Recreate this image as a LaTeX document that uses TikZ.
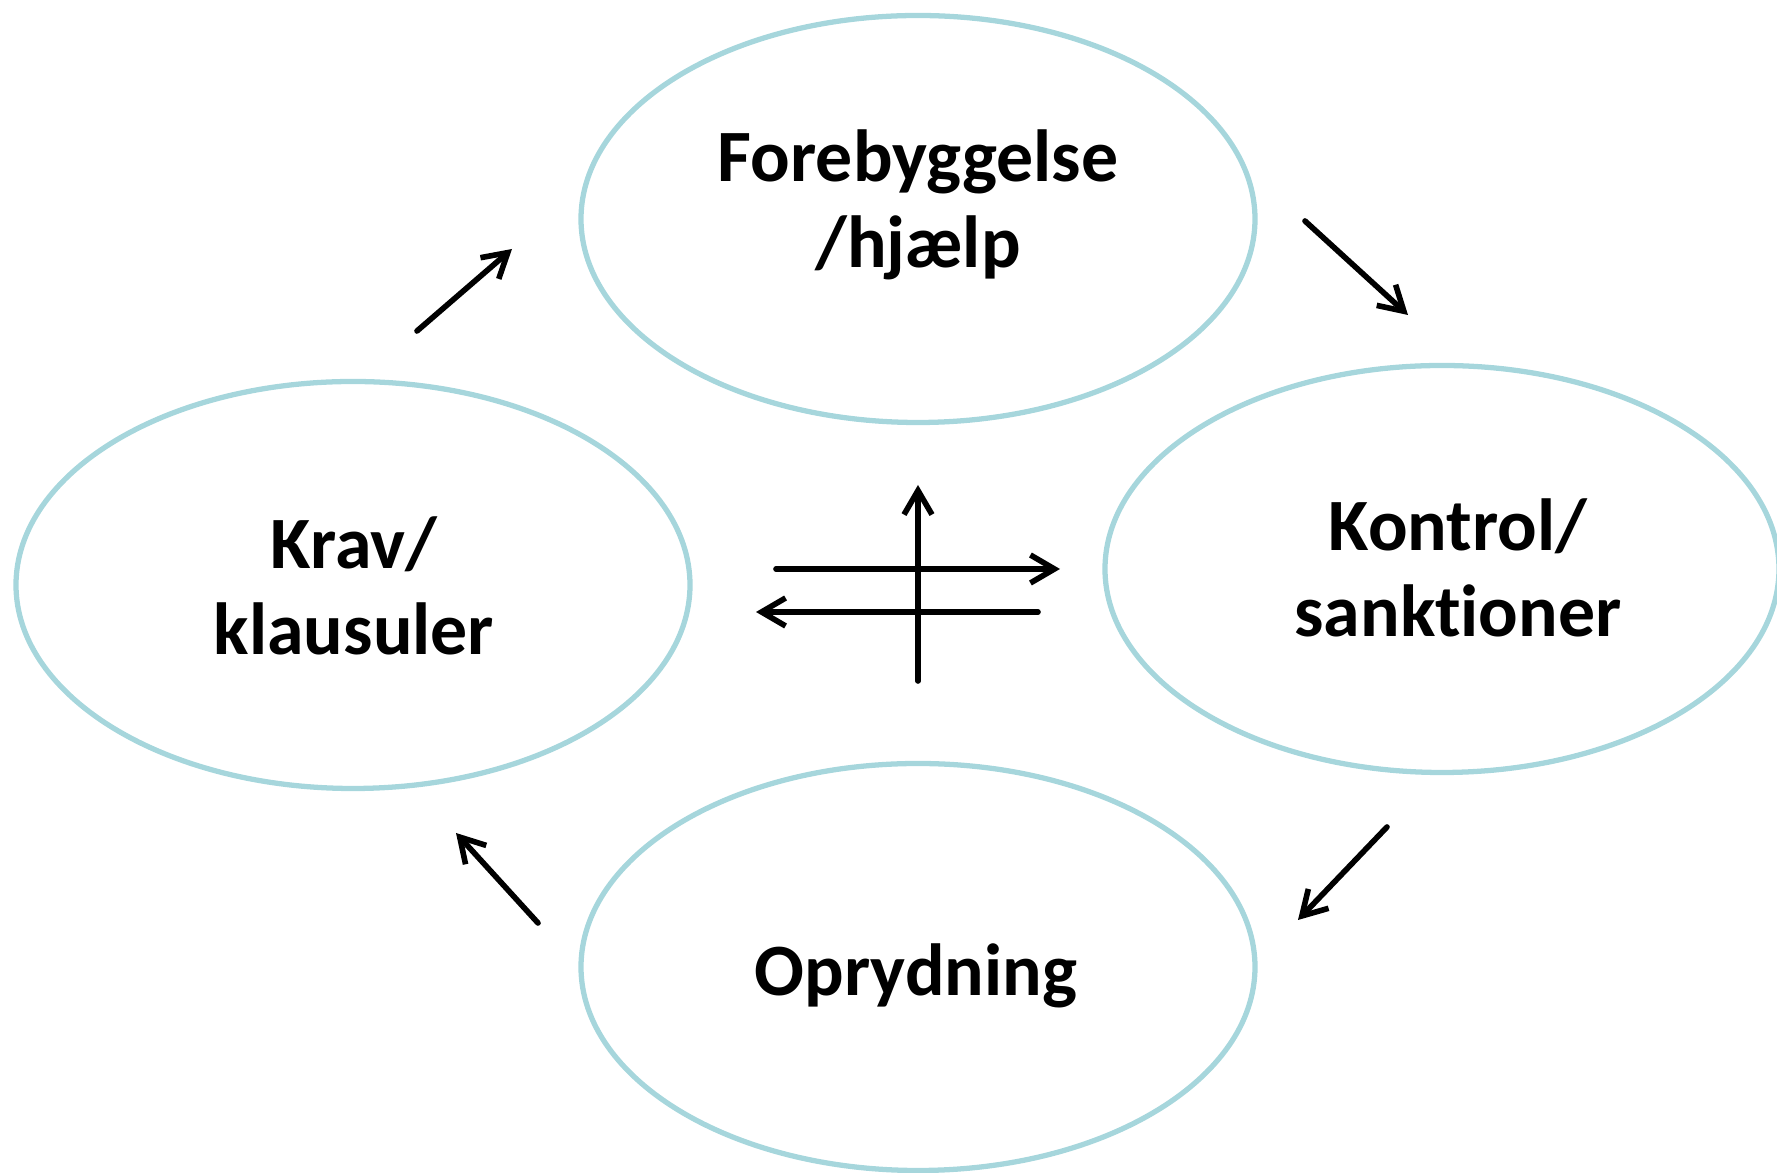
\documentclass[tikz,border=0pt]{standalone}
\usepackage{fontspec}
\setmainfont{Carlito}[Ligatures=NoCommon]
\usetikzlibrary{arrows.meta,shapes.geometric}
\definecolor{ringblue}{RGB}{166,214,220}
\begin{document}
\begin{tikzpicture}[>={Straight Barb[length=2.4mm,width=2.8mm]},
    ring/.style={ellipse, draw=ringblue, line width=1.5pt, minimum width=6.74cm, minimum height=4.07cm, inner sep=0pt},
    lbl/.style={font=\bfseries\fontsize{21}{24.5}\selectfont, align=center, inner sep=0pt},
    flow/.style={->, line width=1.6pt, line cap=round}]
    \useasboundingbox (0,0) rectangle (17.77,-11.73);

    \node[ring] (fore) at (9.18,-2.19) {};
    \node[ring] (kontrol) at (14.42,-5.69) {};
    \node[ring] (krav) at (3.53,-5.85) {};
    \node[ring] (opryd) at (9.18,-9.67) {};

    \node[lbl] (foretxt) at (9.18,-2.045) {Forebyggelse\\/hjælp};
    \node[lbl] (kontroltxt) at (14.58,-5.675) {Kontrol/\\sanktioner};
    \node[lbl] (kravtxt) at (3.54,-5.855) {Krav/\\klausuler};
    \node[lbl] (oprydtxt) at (9.16,-9.755) {Oprydning};

    % pile rundt om ringene
    \coordinate (p1a) at (4.17,-3.31);  \coordinate (p1b) at (5.12,-2.49);
    \coordinate (p2a) at (13.05,-2.21); \coordinate (p2b) at (14.08,-3.15);
    \coordinate (p3a) at (13.87,-8.27); \coordinate (p3b) at (12.98,-9.20);
    \coordinate (p4a) at (5.38,-9.23);  \coordinate (p4b) at (4.56,-8.33);
    \draw[flow] (p1a) -- (p1b);
    \draw[flow] (p2a) -- (p2b);
    \draw[flow] (p3a) -- (p3b);
    \draw[flow] (p4a) -- (p4b);

    % krydset i midten
    \coordinate (vbot) at (9.18,-6.81); \coordinate (vtop) at (9.18,-4.85);
    \coordinate (h1a) at (7.76,-5.69);  \coordinate (h1b) at (10.60,-5.69);
    \coordinate (h2a) at (10.38,-6.12); \coordinate (h2b) at (7.56,-6.12);
    \draw[flow] (vbot) -- (vtop);
    \draw[flow] (h1a) -- (h1b);
    \draw[flow] (h2a) -- (h2b);
\end{tikzpicture}
\end{document}
